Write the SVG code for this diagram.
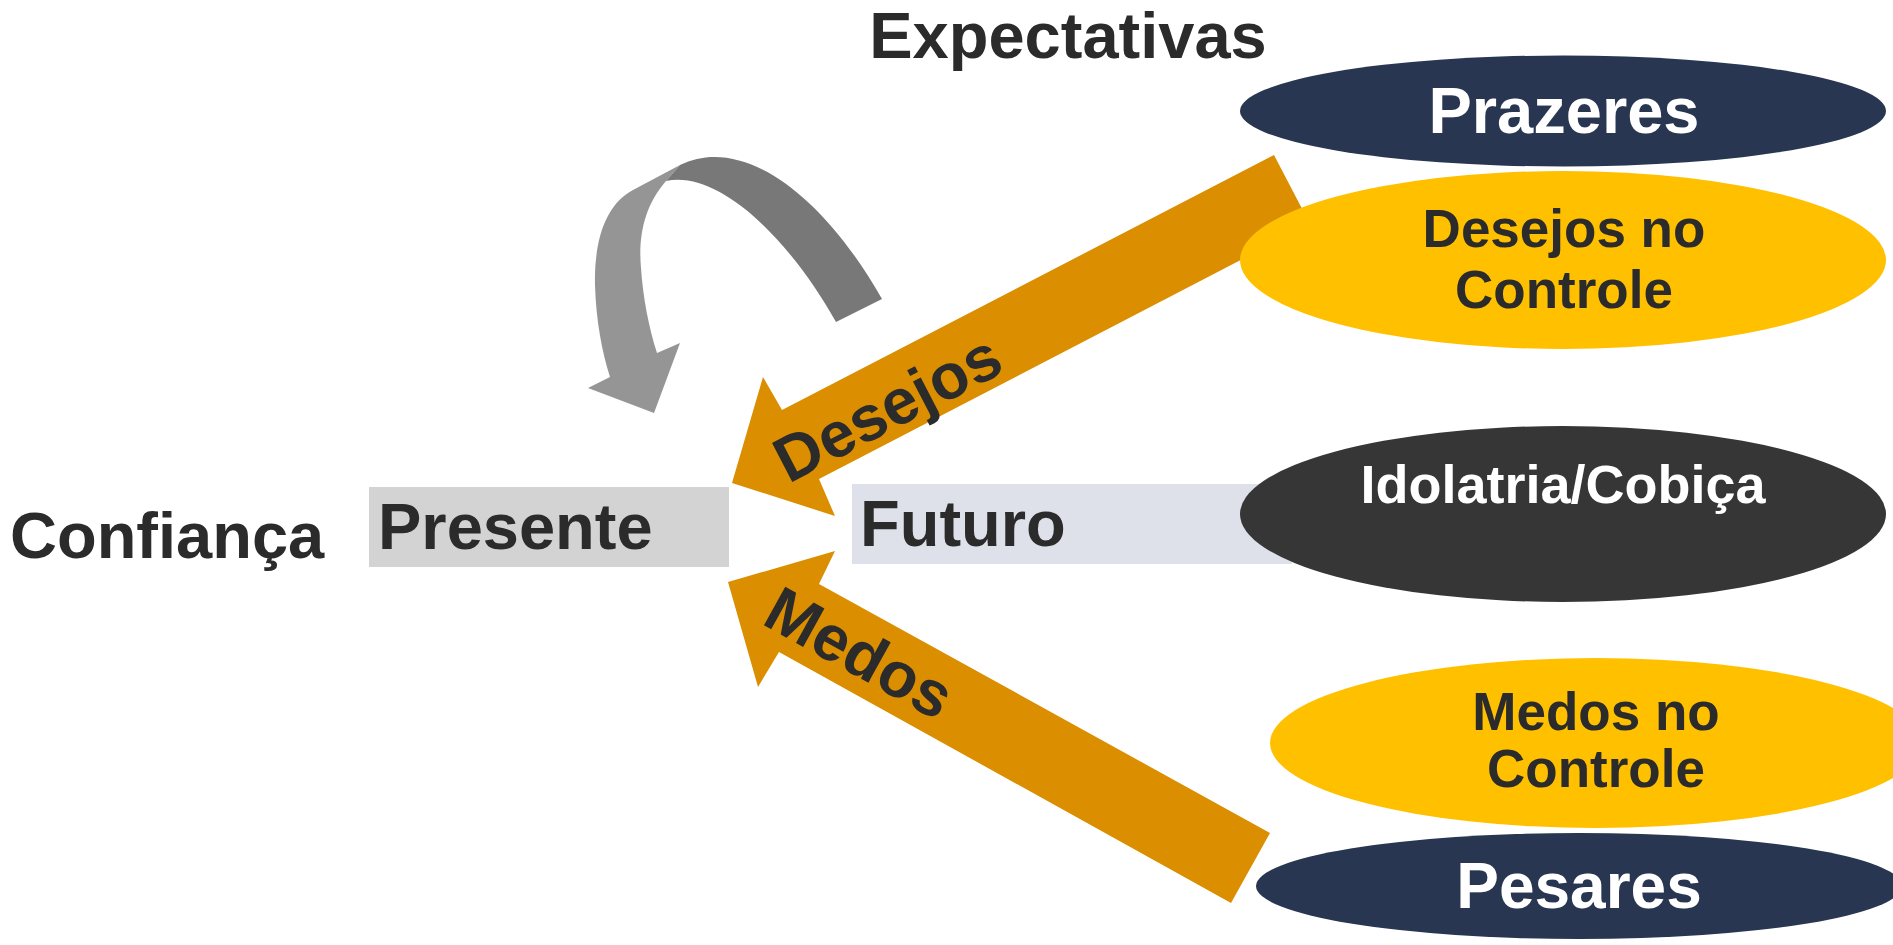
<svg xmlns="http://www.w3.org/2000/svg" width="1893" height="945" viewBox="0 0 1893 945">
<style>
text{font-family:"Liberation Sans",Arial,sans-serif;font-weight:bold;}
.dk{fill:#2b2b2b;}
.wt{fill:#ffffff;}
.orange{fill:#DA8E00;}
</style>
<rect width="1893" height="945" fill="#ffffff"/>
<g id="connectors">
  <polygon class="orange" points="1274,155 1310,224 819,479 835,516 732,483 763,377 782,410"/>
  <polygon class="orange" points="1270,833 1231,903 779,652 758,687 728,582 835,551 819,584"/>
  <path fill="#959595" d="M633,190 L680,165 L666,181 C645,205 638,235 641,268 C643,298 649,328 657,353 L680,343 L654,413 L588,388 L610,377 C602,352 596,320 595,285 C594,240 606,204 633,190 Z"/>
  <path fill="#787878" d="M680,165 C740,135 820,190 882,299 L836,322 C790,240 720,170 666,181 Z"/>
  <text class="dk" font-size="64" text-anchor="middle" transform="translate(887,407) rotate(-27.4)" y="23">Desejos</text>
  <text class="dk" font-size="64" text-anchor="middle" transform="translate(860,652) rotate(28.9)" y="23">Medos</text>
</g>
<g id="expectativas"><text class="dk" x="1068" y="58" font-size="65" text-anchor="middle">Expectativas</text></g>
<g id="confianca"><text class="dk" x="10" y="558" font-size="65">Confiança</text></g>
<g id="presente">
  <rect x="369" y="487" width="360" height="80" fill="#D3D3D3"/>
  <text class="dk" x="378" y="549" font-size="65">Presente</text>
</g>
<g id="futuro">
  <rect x="852" y="484" width="440" height="80" fill="#DEE1EA"/>
  <text class="dk" x="860" y="546" font-size="65">Futuro</text>
</g>
<g id="prazeres">
  <ellipse cx="1563" cy="111" rx="323" ry="55.5" fill="#283651"/>
  <text class="wt" x="1564" y="133" font-size="65" text-anchor="middle">Prazeres</text>
</g>
<g id="desejos-controle">
  <ellipse cx="1563" cy="260" rx="323" ry="89" fill="#FFC000"/>
  <text class="dk" x="1564" y="247" font-size="53" text-anchor="middle">Desejos no</text>
  <text class="dk" x="1564" y="308" font-size="53" text-anchor="middle">Controle</text>
</g>
<g id="idolatria">
  <ellipse cx="1563" cy="514" rx="323" ry="88" fill="#363636"/>
  <text class="wt" x="1563" y="503" font-size="54" text-anchor="middle">Idolatria/Cobiça</text>
</g>
<g id="medos-controle">
  <ellipse cx="1596" cy="743" rx="326" ry="85" fill="#FFC000"/>
  <text class="dk" x="1596" y="730" font-size="53" text-anchor="middle">Medos no</text>
  <text class="dk" x="1596" y="787" font-size="53" text-anchor="middle">Controle</text>
</g>
<g id="pesares">
  <ellipse cx="1579" cy="886" rx="323" ry="53" fill="#283651"/>
  <text class="wt" x="1579" y="908" font-size="64" text-anchor="middle">Pesares</text>
</g>
</svg>
